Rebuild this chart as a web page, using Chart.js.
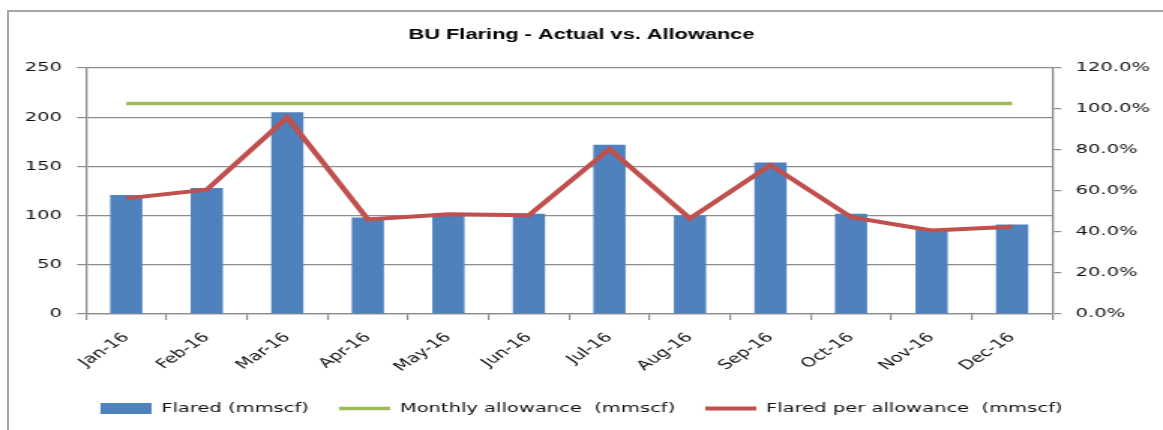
<!DOCTYPE html>
<html>
<head>
<meta charset="utf-8">
<script src="https://cdn.jsdelivr.net/npm/chart.js@4"></script>
<style>
  body { margin: 0; background: #fff; overflow: hidden; }
  /* the original picture is stretched sideways, so the canvas is too */
  #myChart { position: absolute; left: 0; top: 0; transform: scaleX(1.5006); transform-origin: 0 0; }
  #frame { position: absolute; left: 7px; top: 10px; width: 1300px; height: 600px;
           border-top: 2px solid #a6a6a6; border-left: 2px solid #a6a6a6; }
</style>
</head>
<body>
<div id="frame"></div>
<canvas id="myChart" width="775" height="430"></canvas>
<script>
/* Values */
let months = ['Jan-16', 'Feb-16', 'Mar-16', 'Apr-16', 'May-16', 'Jun-16',
              'Jul-16', 'Aug-16', 'Sep-16', 'Oct-16', 'Nov-16', 'Dec-16'];
let flared = [121, 128, 205, 98, 102, 102, 172, 100, 154, 102, 86, 91];
let allowance = [214, 214, 214, 214, 214, 214, 214, 214, 214, 214, 214, 214];
let flaredPerAllowance = [0.564, 0.606, 0.960, 0.461, 0.487, 0.482, 0.805, 0.466, 0.726, 0.472, 0.407, 0.426];

let leftTicks = [0, 50, 100, 150, 200, 250];
let rightTicks = [0, 0.2, 0.4, 0.6, 0.8, 1.0, 1.2];

let gridGrey = '#8c8c8c';
let textFont = { family: 'DejaVu Sans', size: 13 };

let data = {
    labels: months,
    datasets: [{
        type: 'bar',
        label: 'Flared (mmscf)',
        data: flared,
        backgroundColor: '#4f81bd',
        borderWidth: 0,
        barPercentage: 0.4,
        categoryPercentage: 1,
        pointStyle: 'rect',
        yAxisID: 'y',
        order: 3
    }, {
        type: 'line',
        label: 'Monthly allowance  (mmscf)',
        data: allowance,
        borderColor: '#9bbb59',
        backgroundColor: '#9bbb59',
        borderWidth: 3.5,
        pointRadius: 0,
        pointStyle: 'line',
        yAxisID: 'y',
        order: 2
    }, {
        type: 'line',
        label: 'Flared per allowance  (mmscf)',
        data: flaredPerAllowance,
        borderColor: '#c0504d',
        backgroundColor: '#c0504d',
        borderWidth: 4,
        pointRadius: 0,
        pointStyle: 'line',
        tension: 0,
        yAxisID: 'y1',
        order: 1
    }]
};

let config = {
    type: 'bar',
    data: data,
    options: {
        responsive: false,
        animation: false,
        layout: { padding: { left: 0, right: 0, top: 0, bottom: 5 } },
        plugins: {
            tooltip: { enabled: false },
            title: {
                display: true,
                text: 'BU Flaring - Actual vs. Allowance',
                color: '#000',
                font: { family: 'Liberation Sans', size: 14.5, weight: 'bold' },
                padding: { top: 26.3, bottom: 24.3 }
            },
            legend: {
                position: 'bottom',
                labels: {
                    usePointStyle: true,
                    pointStyleWidth: 34,
                    boxHeight: 11,
                    padding: 20,
                    color: '#111',
                    font: textFont,
                    sort: (a, b) => a.datasetIndex - b.datasetIndex
                }
            }
        },
        scales: {
            x: {
                offset: true,
                grid: { offset: true, drawOnChartArea: false, drawTicks: true, tickLength: 6, color: gridGrey, lineWidth: 1.2 },
                border: { display: true, color: gridGrey, width: 1.3 },
                ticks: { autoSkip: false, minRotation: 45, maxRotation: 45, padding: 10, color: '#111', font: textFont },
                afterFit: (scale) => { scale.height = 68; }
            },
            y: {
                position: 'left',
                min: 0,
                max: 250,
                afterBuildTicks: (scale) => { scale.ticks = leftTicks.map(v => ({ value: v })); },
                grid: { drawTicks: true, tickLength: 6, color: gridGrey, lineWidth: 1.2 },
                border: { display: true, color: gridGrey, width: 1.3 },
                ticks: { padding: 10, color: '#111', font: textFont },
                afterFit: (scale) => { scale.width = 57.3; }
            },
            y1: {
                position: 'right',
                min: 0,
                max: 1.2,
                afterBuildTicks: (scale) => { scale.ticks = rightTicks.map(v => ({ value: v })); },
                grid: { drawOnChartArea: false, drawTicks: true, tickLength: 6, color: gridGrey, lineWidth: 1.2 },
                border: { display: true, color: gridGrey, width: 1.3 },
                ticks: {
                    padding: 9.5, color: '#111', font: textFont,
                    callback: (v) => (v * 100).toFixed(1) + '%'
                },
                afterFit: (scale) => { scale.width = 73.7; }
            }
        }
    }
};

let myChart = new Chart(document.getElementById('myChart').getContext('2d'), config);
</script>
</body>
</html>
